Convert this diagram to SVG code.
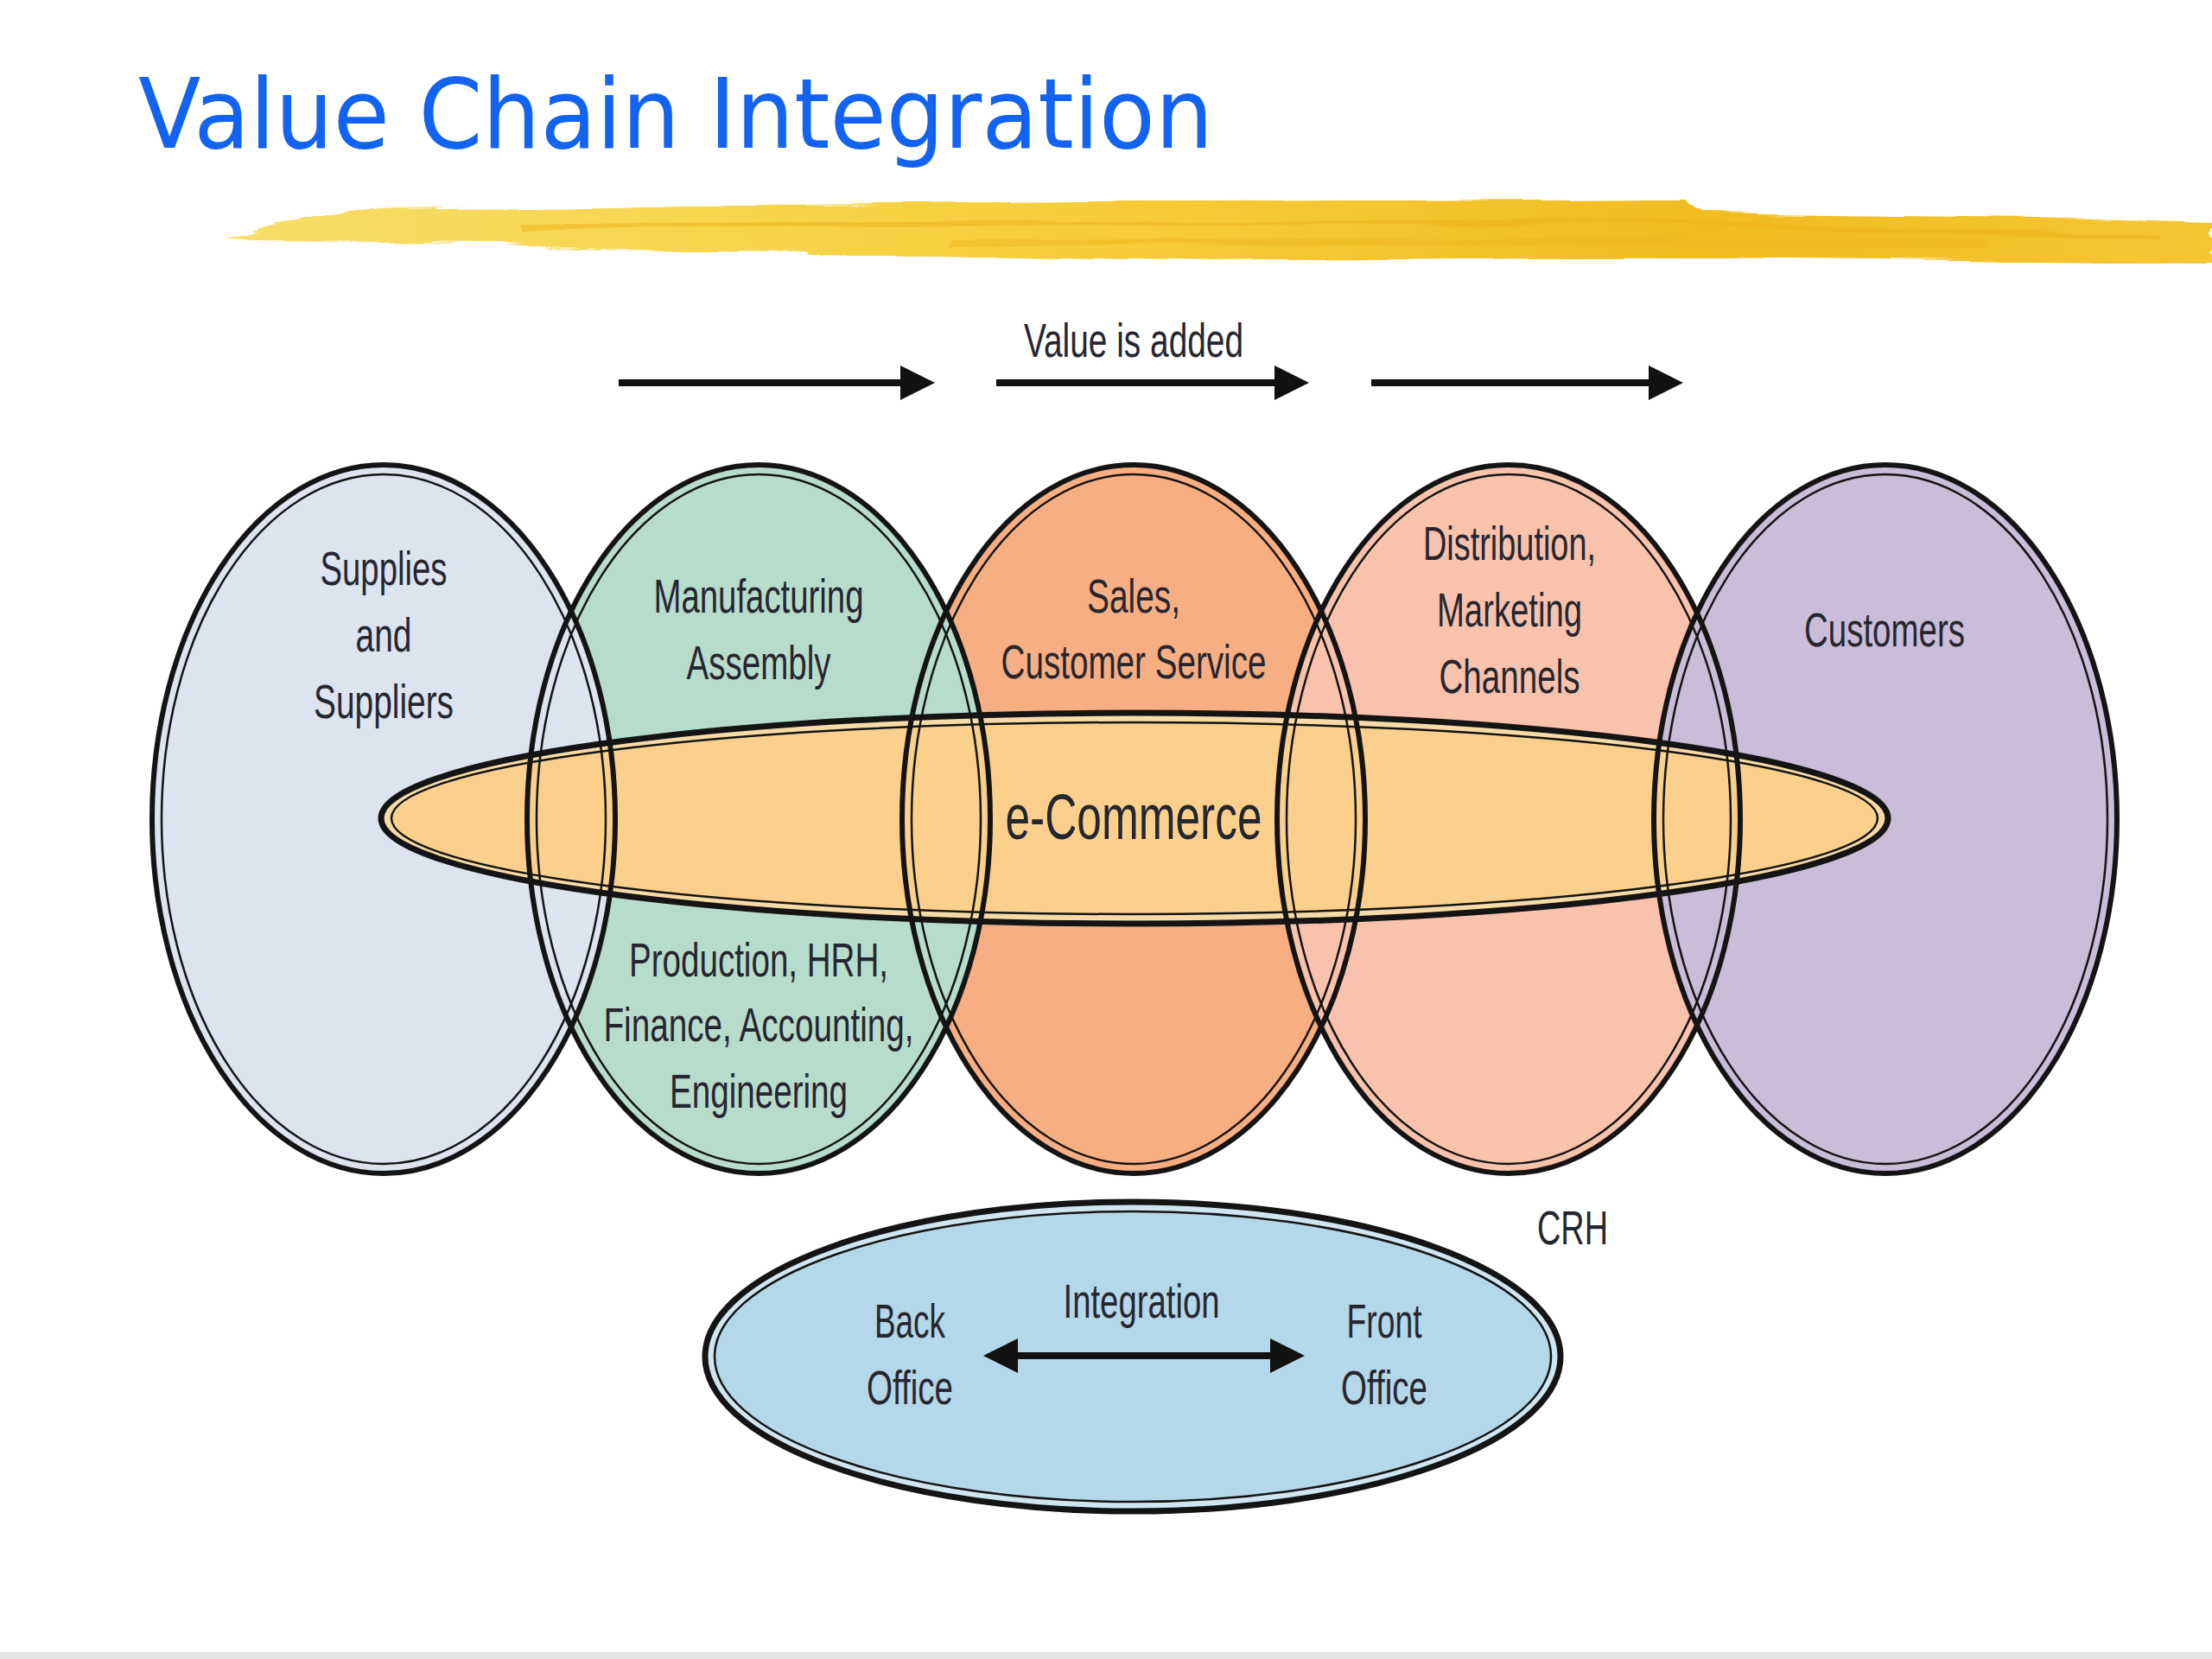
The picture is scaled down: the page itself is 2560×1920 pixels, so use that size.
<svg xmlns="http://www.w3.org/2000/svg" xmlns:xlink="http://www.w3.org/1999/xlink" width="2560" height="1920" viewBox="0 0 2560 1920">
<style>
.lbl{font-family:"Liberation Sans",Arial,sans-serif;font-size:55px;fill:#262630;text-anchor:middle}
.title{font-family:"DejaVu Sans","Liberation Sans",sans-serif;font-size:112px;fill:#1263f2}
.outer{fill:none;stroke:#141414;stroke-width:6}
.inner{fill:none;stroke:#141414;stroke-width:2.5}
.arrow{stroke:#111;stroke-width:8;fill:none}
</style>
<defs>
<linearGradient id="brushG" x1="0" y1="0" x2="1" y2="0">
<stop offset="0" stop-color="#f8de68"/>
<stop offset="0.4" stop-color="#f6cf3c"/>
<stop offset="0.75" stop-color="#f2bc22"/>
<stop offset="1" stop-color="#f5c633"/>
</linearGradient>
<filter id="rough" x="-5%" y="-50%" width="110%" height="200%">
<feTurbulence type="fractalNoise" baseFrequency="0.004 0.12" numOctaves="2" seed="3" result="n"/>
<feDisplacementMap in="SourceGraphic" in2="n" scale="14" xChannelSelector="R" yChannelSelector="G"/>
</filter>
<marker id="head" viewBox="0 0 40 40" markerWidth="40" markerHeight="40" refX="2" refY="20" orient="auto-start-reverse" markerUnits="userSpaceOnUse">
<path d="M0,0 L40,20 L0,40 Z" fill="#111"/>
</marker>
<ellipse id="o1" cx="444" cy="948" rx="268" ry="410"/>
<ellipse id="i1" cx="444" cy="948" rx="257" ry="399"/>
<ellipse id="o2" cx="878" cy="948" rx="268" ry="410"/>
<ellipse id="i2" cx="878" cy="948" rx="257" ry="399"/>
<ellipse id="o3" cx="1312" cy="948" rx="268" ry="410"/>
<ellipse id="i3" cx="1312" cy="948" rx="257" ry="399"/>
<ellipse id="o4" cx="1746" cy="948" rx="268" ry="410"/>
<ellipse id="i4" cx="1746" cy="948" rx="257" ry="399"/>
<ellipse id="o5" cx="2182" cy="948" rx="268" ry="410"/>
<ellipse id="i5" cx="2182" cy="948" rx="257" ry="399"/>
</defs>
<rect x="0" y="0" width="2560" height="1920" fill="#ffffff"/>
<rect x="0" y="1912" width="2560" height="8" fill="#e4e4e4"/>

<g id="title">
<text class="title" x="160" y="171" textLength="1244" lengthAdjust="spacingAndGlyphs">Value Chain Integration</text>
</g>
<g id="brush" filter="url(#rough)">
<path d="M261,277 C300,262 360,250 430,242 L889,237 L1400,233 L1949,230 L1972,247 L2355,252 L2560,258 L2560,303 L1972,297 L1400,303 L1042,295 L812,293 L583,283 L292,281 Z" fill="url(#brushG)"/>
<path d="M600,262 L1900,256 L2500,275" stroke="#eeb01a" stroke-width="6" fill="none" opacity="0.5"/>
<path d="M1100,280 L2300,282" stroke="#f0b520" stroke-width="8" fill="none" opacity="0.5"/>
</g>

<g id="value-added">
<text class="lbl" x="1312" y="413" textLength="254" lengthAdjust="spacingAndGlyphs">Value is added</text>
</g>

<g id="node-sales">
<use xlink:href="#o3" fill="#f7ae82"/>
<text class="lbl" x="1312" y="709" textLength="108" lengthAdjust="spacingAndGlyphs">Sales,</text>
<text class="lbl" x="1312" y="785" textLength="307" lengthAdjust="spacingAndGlyphs">Customer Service</text>
</g>
<g id="node-manufacturing">
<use xlink:href="#o2" fill="#b8dccc"/>
<text class="lbl" x="878" y="709" textLength="243" lengthAdjust="spacingAndGlyphs">Manufacturing</text>
<text class="lbl" x="878" y="786" textLength="167" lengthAdjust="spacingAndGlyphs">Assembly</text>
<text class="lbl" x="878" y="1130" textLength="300" lengthAdjust="spacingAndGlyphs">Production, HRH,</text>
<text class="lbl" x="878" y="1205" textLength="359" lengthAdjust="spacingAndGlyphs">Finance, Accounting,</text>
<text class="lbl" x="878" y="1282" textLength="206" lengthAdjust="spacingAndGlyphs">Engineering</text>
</g>
<g id="node-supplies">
<use xlink:href="#o1" fill="#dde3ef"/>
<text class="lbl" x="444" y="677" textLength="147" lengthAdjust="spacingAndGlyphs">Supplies</text>
<text class="lbl" x="444" y="754" textLength="65" lengthAdjust="spacingAndGlyphs">and</text>
<text class="lbl" x="444" y="831" textLength="162" lengthAdjust="spacingAndGlyphs">Suppliers</text>
</g>
<g id="node-distribution">
<use xlink:href="#o4" fill="#f9c2ac"/>
<text class="lbl" x="1747" y="648" textLength="200" lengthAdjust="spacingAndGlyphs">Distribution,</text>
<text class="lbl" x="1747" y="725" textLength="168" lengthAdjust="spacingAndGlyphs">Marketing</text>
<text class="lbl" x="1747" y="802" textLength="163" lengthAdjust="spacingAndGlyphs">Channels</text>
</g>
<g id="node-customers">
<use xlink:href="#o5" fill="#c9bdd9"/>
<text class="lbl" x="2181" y="748" textLength="186" lengthAdjust="spacingAndGlyphs">Customers</text>
</g>

<g id="node-ecommerce">
<ellipse cx="1313" cy="947" rx="872" ry="122" fill="#f6dba6" stroke="#141414" stroke-width="7"/>
<ellipse cx="1313" cy="947" rx="860" ry="111" fill="#fbd08c" stroke="#141414" stroke-width="2.5"/>
<text class="lbl" x="1312" y="971" style="font-size:75px" textLength="297" lengthAdjust="spacingAndGlyphs">e-Commerce</text>
</g>

<g id="outlines">
<use xlink:href="#o1" class="outer"/><use xlink:href="#i1" class="inner"/>
<use xlink:href="#o2" class="outer"/><use xlink:href="#i2" class="inner"/>
<use xlink:href="#o3" class="outer"/><use xlink:href="#i3" class="inner"/>
<use xlink:href="#o4" class="outer"/><use xlink:href="#i4" class="inner"/>
<use xlink:href="#o5" class="outer"/><use xlink:href="#i5" class="inner"/>
</g>

<g id="crh">
<text class="lbl" x="1820" y="1440" textLength="82" lengthAdjust="spacingAndGlyphs">CRH</text>
</g>

<g id="node-integration">
<ellipse cx="1311" cy="1570" rx="495" ry="179" fill="#cfe6f1" stroke="#141414" stroke-width="7"/>
<ellipse cx="1311" cy="1570" rx="484" ry="168" fill="#b4d7e9" stroke="#141414" stroke-width="2.5"/>
<text class="lbl" x="1053" y="1548" textLength="82" lengthAdjust="spacingAndGlyphs">Back</text>
<text class="lbl" x="1053" y="1625" textLength="100" lengthAdjust="spacingAndGlyphs">Office</text>
<text class="lbl" x="1321" y="1525" textLength="181" lengthAdjust="spacingAndGlyphs">Integration</text>
<text class="lbl" x="1602" y="1548" textLength="87" lengthAdjust="spacingAndGlyphs">Front</text>
<text class="lbl" x="1602" y="1625" textLength="100" lengthAdjust="spacingAndGlyphs">Office</text>
</g>

<g id="connectors">
<line class="arrow" x1="716" y1="443" x2="1044" y2="443" marker-end="url(#head)"/>
<line class="arrow" x1="1153" y1="443" x2="1477" y2="443" marker-end="url(#head)"/>
<line class="arrow" x1="1587" y1="443" x2="1910" y2="443" marker-end="url(#head)"/>
<line class="arrow" x1="1176" y1="1569" x2="1472" y2="1569" marker-start="url(#head)" marker-end="url(#head)"/>
</g>
</svg>
